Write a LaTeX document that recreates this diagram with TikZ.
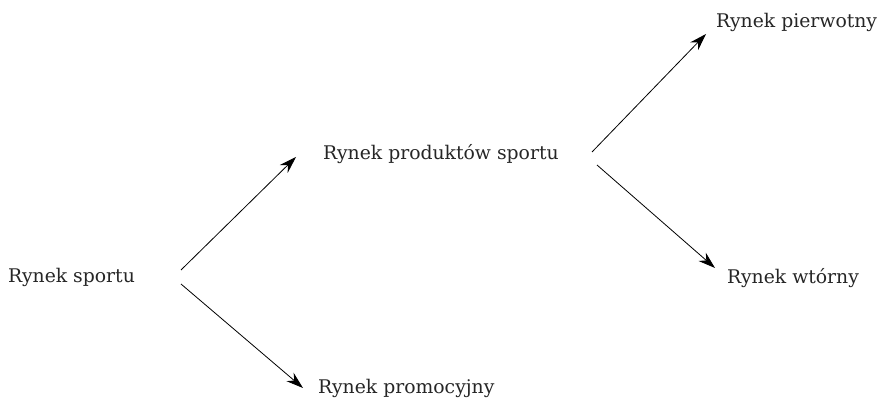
\documentclass[tikz,border=0pt]{standalone}
\usepackage{fontspec}
\setmainfont{DejaVu Serif}
\usetikzlibrary{arrows.meta,calc}
\begin{document}
\begin{tikzpicture}[x=1pt,y=1pt,
  lbl/.style={anchor=base west,inner sep=0pt,font=\fontsize{18.8}{22}\selectfont,text=black!85},
  arr/.style={line width=0.8pt,-{Stealth[length=17pt,width=11pt]}}]
\useasboundingbox (0,0) rectangle (878,399);
\node[lbl] (sport) at (8,116) {Rynek sportu};
\node[lbl] (prod) at (323,239) {Rynek produktów sportu};
\node[lbl] (pierw) at (716,371) {Rynek pierwotny};
\node[lbl] (wtor) at (727,115) {Rynek wtórny};
\node[lbl] (promo) at (318,6) {Rynek promocyjny};
\draw[arr] ($(sport.base west)+(173,13)$) -- ($(prod.base west)+(-27,3)$);
\draw[arr] ($(sport.base west)+(173,-1)$) -- ($(promo.base west)+(-15,5)$);
\draw[arr] ($(prod.base west)+(269,8)$) -- ($(pierw.base west)+(-10,-6)$);
\draw[arr] ($(prod.base west)+(274,-5)$) -- ($(wtor.base west)+(-12,16)$);
\end{tikzpicture}
\end{document}
